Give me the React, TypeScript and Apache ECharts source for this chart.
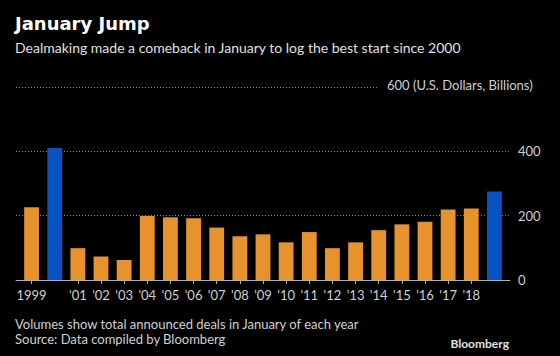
import React, { useEffect, useRef } from "react";
import * as echarts from "echarts";

const years = ["1999","2000","2001","2002","2003","2004","2005","2006","2007","2008","2009","2010","2011","2012","2013","2014","2015","2016","2017","2018","2019"];
const tickLabels = ["1999","","'01","'02","'03","'04","'05","'06","'07","'08","'09","'10","'11","'12","'13","'14","'15","'16","'17","'18",""];
const volumes = [226,410,99,73,62,199,195,192,163,136,142,117,149,99,117,155,173,181,219,222,275];
const highlighted = ["2000","2019"];
const yTicks = [0,200,400,600];

const ORANGE = "#e8922e";
const BLUE = "#0752c4";
const FONT = "Lato, 'Open Sans', sans-serif";

export default function App() {
  const ref = useRef<HTMLDivElement>(null);
  useEffect(() => {
    if (!ref.current) return;
    const chart = echarts.init(ref.current, null, { renderer: "svg" });
    const top = 87, bottom = 76;
    chart.setOption({
      animation: false,
      backgroundColor: "#000000",
      textStyle: { fontFamily: FONT },
      grid: [
        { left: 16, right: 50, top, bottom },
        { left: 20, right: 54, top, bottom },
      ],
      xAxis: [
        {
          type: "category", gridIndex: 0, data: years,
          axisLine: { show: true, lineStyle: { color: "#b0b0b0", width: 1 } },
          axisTick: { show: false }, axisLabel: { show: false }, splitLine: { show: false },
        },
        {
          type: "category", gridIndex: 1, data: years,
          axisLine: { show: false },
          axisTick: {
            show: true, alignWithLabel: true, length: 4,
            interval: (i: number) => tickLabels[i] !== "",
            lineStyle: { color: "#b0b0b0" },
          },
          axisLabel: {
            interval: 0, color: "#cfcfcf", fontSize: 13, fontFamily: FONT, margin: 8,
            formatter: (_v: string, i: number) => tickLabels[i],
          },
        },
      ],
      yAxis: [
        {
          type: "value", gridIndex: 0, position: "right", min: yTicks[0], max: yTicks[yTicks.length - 1], interval: 200,
          axisLine: { show: false }, axisTick: { show: false },
          axisLabel: {
            color: "#cfcfcf", fontSize: 13, fontFamily: FONT, margin: 8,
            formatter: (v: number) => (v === 600 ? "" : String(v)),
          },
          splitLine: { show: true, lineStyle: { color: "#8a8a8a", type: [1, 2], width: 1 } },
        },
        {
          type: "value", gridIndex: 1, min: 0, max: 600, interval: 200, show: false,
          splitLine: { show: false },
        },
      ],
      series: [
        {
          type: "bar", xAxisIndex: 1, yAxisIndex: 1,
          barCategoryGap: "36%",
          data: volumes.map((v, i) => ({
            value: v,
            itemStyle: { color: highlighted.includes(years[i]) ? BLUE : ORANGE },
          })),
        },
      ],
      graphic: [
        { type: "rect", z: 100, shape: { x: 378, y: 80, width: 140, height: 14 }, style: { fill: "#000000" } },
        { type: "text", z: 101, left: 387, top: 78, style: { text: "600 (U.S. Dollars, Billions)", fill: "#cfcfcf", font: `13px ${FONT}` } },
        { type: "text", left: 15, top: 14, style: { text: "January Jump", fill: "#ffffff", font: `bold 18px 'DejaVu Sans', sans-serif` } },
        { type: "text", left: 15, top: 40, style: { text: "Dealmaking made a comeback in January to log the best start since 2000", fill: "#e0e0e0", font: `14px ${FONT}` } },
        { type: "text", left: 15, top: 317, style: { text: "Volumes show total announced deals in January of each year", fill: "#d0d0d0", font: `13px ${FONT}` } },
        { type: "text", left: 15, top: 332, style: { text: "Source: Data compiled by Bloomberg", fill: "#d0d0d0", font: `13px ${FONT}` } },
        { type: "text", right: 51, top: 337, style: { text: "Bloomberg", fill: "#e0e0e0", font: `bold 12px ${FONT}` } },
      ],
    });
    return () => chart.dispose();
  }, []);
  return <div ref={ref} style={{ width: 560, height: 356, position: "fixed", left: 0, top: 0 }} />;
}
